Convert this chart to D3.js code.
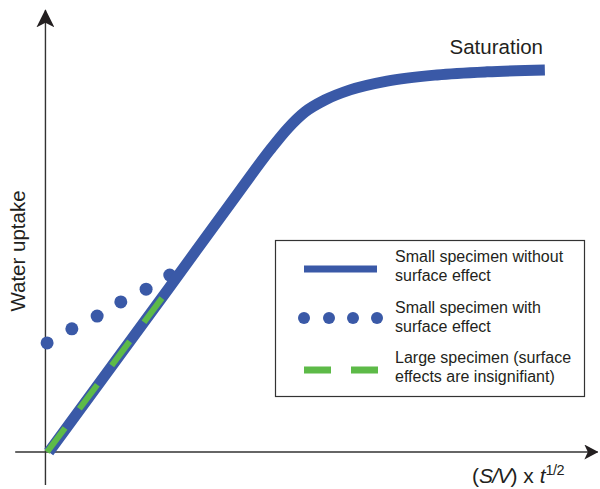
<!DOCTYPE html>
<html>
<head>
<meta charset="utf-8">
<script src="https://cdn.jsdelivr.net/npm/d3@7"></script>
<style>
  body { margin: 0; background: #fff; }
  text { font-family: "Liberation Sans", Arial, sans-serif; fill: #231f20; }
</style>
</head>
<body>
<div id="chart"></div>
<script>
// curve of a small specimen without surface effect (arbitrary units)
const withoutEffect = [
  [0.5, 0], [22.2, 37.0], [35.3, 59.5], [40.7, 68.6], [44.0, 73.6], [47.1, 77.3],
  [50.7, 80.0], [55.3, 82.3], [62.0, 84.3], [71.1, 85.7], [80.2, 86.4], [90.7, 86.8]
];
// small specimen with surface effect (dots)
const withEffectX = [0.2, 4.7, 9.3, 13.6, 18.2, 22.5];
const withEffectY = [24.8, 28.0, 30.9, 34.1, 37.0, 40.2];
// large specimen, straight from the origin
const largeSpecimen = [[0.2, 0], [21.1, 35.0]];

const legendLabels = [
  ["Small specimen without", "surface effect"],
  ["Small specimen with", "surface effect"],
  ["Large specimen (surface", "effects are insignifiant)"]
];

function renderSketch(containerId) {
  const width = 600;
  const height = 489;
  const blue = "#3a59a7";
  const green = "#5dba48";

  const svg = d3.select(`#${containerId}`)
    .append("svg")
    .attr("width", width)
    .attr("height", height);

  const x = d3.scaleLinear().domain([0, 100]).range([46, 596]);
  const y = d3.scaleLinear().domain([0, 100]).range([452, 12]);

  const defs = svg.append("defs");
  function arrow(id, len, wid) {
    defs.append("marker")
      .attr("id", id)
      .attr("viewBox", "0 0 20 20")
      .attr("refX", 19)
      .attr("refY", 10)
      .attr("markerUnits", "userSpaceOnUse")
      .attr("markerWidth", len)
      .attr("markerHeight", wid)
      .attr("orient", "auto")
      .attr("preserveAspectRatio", "none")
      .append("path")
      .attr("d", "M0,0 L20,10 L0,20 L5,10 Z")
      .attr("fill", "#231f20");
  }
  arrow("arrowY", 18, 18);
  arrow("arrowX", 14, 15);

  // axes
  svg.append("line")
    .attr("x1", x(-5.6)).attr("y1", y(0))
    .attr("x2", x(100.3)).attr("y2", y(0))
    .attr("stroke", "#333")
    .attr("stroke-width", 1.4)
    .attr("marker-end", "url(#arrowX)");

  svg.append("line")
    .attr("x1", x(-0.1)).attr("y1", y(-7.5))
    .attr("x2", x(-0.1)).attr("y2", y(100.4))
    .attr("stroke", "#333")
    .attr("stroke-width", 1.4)
    .attr("marker-end", "url(#arrowY)");

  const line = d3.line()
    .x(d => x(d[0]))
    .y(d => y(d[1]))
    .curve(d3.curveMonotoneX);

  // dots
  svg.append("g")
    .selectAll("circle")
    .data(withEffectX)
    .join("circle")
    .attr("cx", d => x(d))
    .attr("cy", (d, i) => y(withEffectY[i]))
    .attr("r", 6.5)
    .attr("fill", blue);

  svg.append("path")
    .datum(withoutEffect)
    .attr("fill", "none")
    .attr("stroke", blue)
    .attr("stroke-width", 11)
    .attr("d", line);

  svg.append("path")
    .datum(largeSpecimen)
    .attr("fill", "none")
    .attr("stroke", green)
    .attr("stroke-width", 6)
    .attr("stroke-dasharray", "30,24")
    .attr("d", d3.line().x(d => x(d[0])).y(d => y(d[1])));

  // labels
  svg.append("text")
    .attr("x", 543)
    .attr("y", 54)
    .attr("text-anchor", "end")
    .attr("font-size", 20.5)
    .text("Saturation");

  svg.append("text")
    .attr("transform", "translate(25,251) rotate(-90)")
    .attr("text-anchor", "middle")
    .attr("font-size", 20.5)
    .text("Water uptake");

  const xl = svg.append("text")
    .attr("x", 472)
    .attr("y", 483)
    .attr("font-size", 21);
  xl.append("tspan").text("(");
  xl.append("tspan").attr("font-style", "italic").attr("letter-spacing", -0.8).text("S/V");
  xl.append("tspan").text(") x ");
  xl.append("tspan").attr("font-style", "italic").text("t");
  xl.append("tspan").attr("font-size", 14.5).attr("dy", -8).attr("letter-spacing", -0.5).text("1/2");

  // legend
  const lg = svg.append("g");
  lg.append("rect")
    .attr("x", 275.5).attr("y", 240.5)
    .attr("width", 309).attr("height", 156)
    .attr("fill", "#fff")
    .attr("stroke", "#333")
    .attr("stroke-width", 1.2);

  lg.append("line")
    .attr("x1", 304).attr("x2", 377)
    .attr("y1", 269).attr("y2", 269)
    .attr("stroke", blue).attr("stroke-width", 7);

  lg.selectAll("circle")
    .data([304, 329, 353, 377])
    .join("circle")
    .attr("cx", d => d)
    .attr("cy", 318)
    .attr("r", 6)
    .attr("fill", blue);

  lg.append("line")
    .attr("x1", 304).attr("x2", 378)
    .attr("y1", 370).attr("y2", 370)
    .attr("stroke", green).attr("stroke-width", 7)
    .attr("stroke-dasharray", "27,20");

  legendLabels.forEach((lines, i) => {
    lines.forEach((t, j) => {
      lg.append("text")
        .attr("x", 395)
        .attr("y", 262 + i * 50.5 + j * 19)
        .attr("font-size", 16)
        .text(t);
    });
  });
}

renderSketch("chart");
</script>
</body>
</html>
